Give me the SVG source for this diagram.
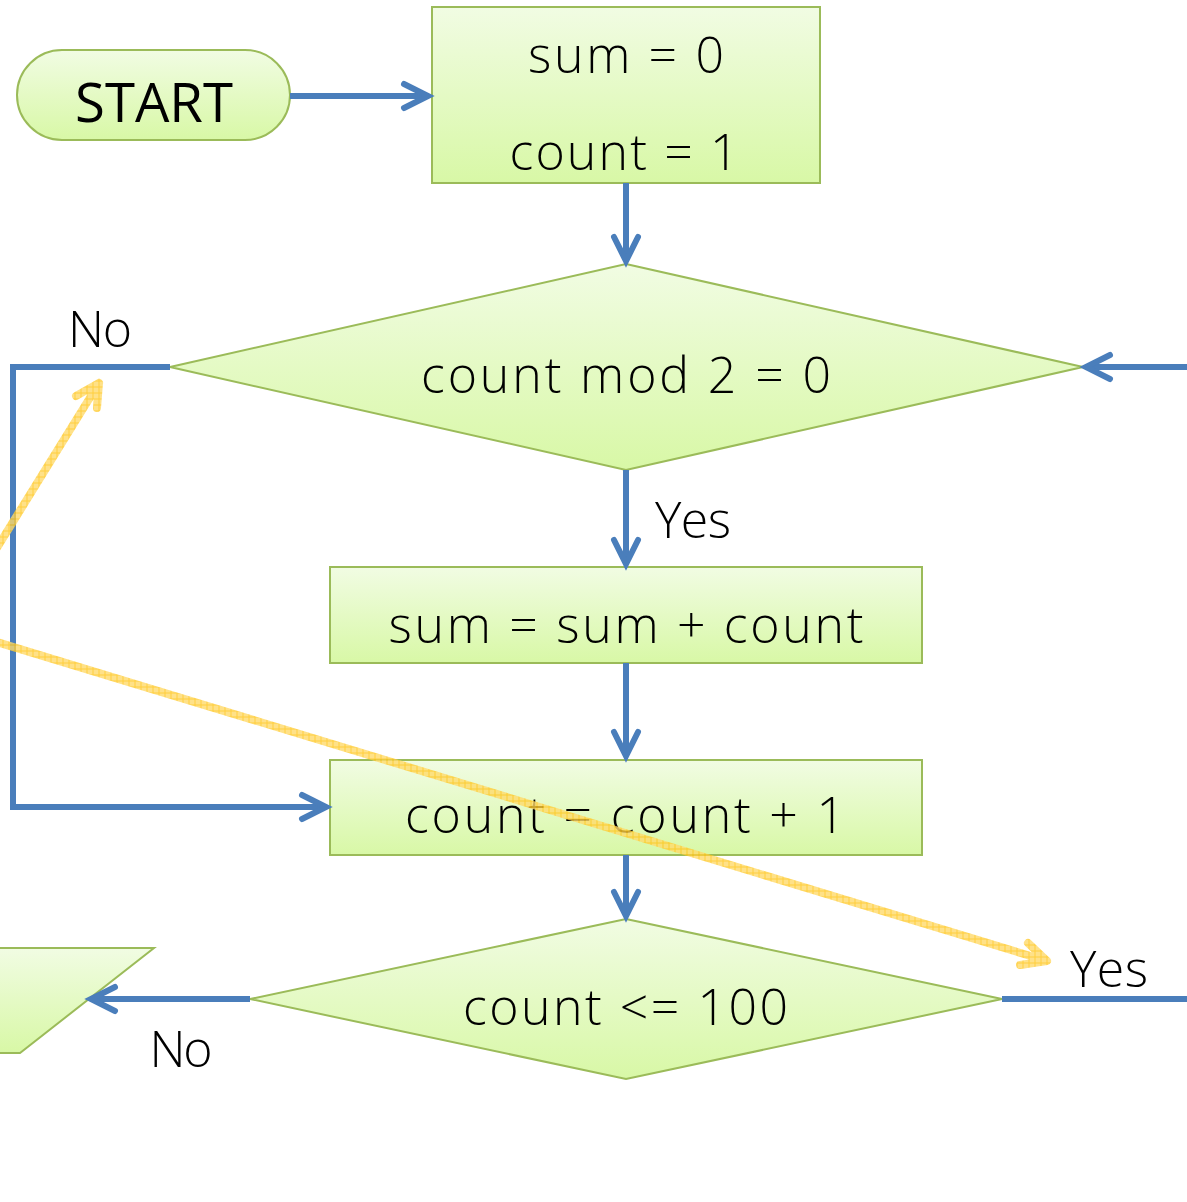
<svg xmlns="http://www.w3.org/2000/svg" width="1187" height="1202" viewBox="0 0 1187 1202">
  <defs>
    <linearGradient id="greenFill" x1="0" y1="0" x2="0" y2="1">
      <stop offset="0" stop-color="#F1FCE3"/>
      <stop offset="1" stop-color="#D8F8A6"/>
    </linearGradient>
    <pattern id="hatch" width="6" height="6" patternUnits="userSpaceOnUse">
      <rect width="6" height="6" fill="#FFDA6A"/>
      <path d="M0,3 H6 M3,0 V6" stroke="#FFC20E" stroke-width="1"/>
    </pattern>
    <marker id="arrow" markerUnits="userSpaceOnUse" viewBox="-32 -18 40 36" markerWidth="40" markerHeight="36" refX="0" refY="0" orient="auto">
      <path d="M-24,-12 L0,0 L-24,12" fill="none" stroke="#4A7EBB" stroke-width="6" stroke-linecap="round" stroke-linejoin="miter"/>
    </marker>
  </defs>
  <style>
    .shape { fill: url(#greenFill); stroke: #9BBB59; stroke-width: 2; }
    .label { font-family: "Open Sans", Lato, "Liberation Sans", sans-serif; font-size: 50px; font-weight: 300; fill: #000; }
    .title { font-family: "Open Sans", Lato, "Liberation Sans", sans-serif; font-size: 54px; font-weight: 400; fill: #000; }
    .flow { fill: none; stroke: #4A7EBB; stroke-width: 6; }
    .note { fill: none; stroke: url(#hatch); stroke-width: 8; stroke-linecap: round; stroke-linejoin: round; opacity: 0.8; }
  </style>

  <g id="output-shape">
    <polygon class="shape" points="-300,948 154,948 20,1053 -434,1053"/>
  </g>

  <g id="start">
    <rect class="shape" x="17" y="50" width="273" height="90" rx="45" ry="45"/>
    <text class="title" x="154" y="122" text-anchor="middle" textLength="158" lengthAdjust="spacingAndGlyphs">START</text>
  </g>

  <g id="init">
    <rect class="shape" x="432" y="7" width="388" height="176"/>
    <text class="label" x="626" y="73" text-anchor="middle" textLength="196" lengthAdjust="spacing">sum = 0</text>
    <text class="label" x="624" y="170" text-anchor="middle" textLength="229" lengthAdjust="spacing">count = 1</text>
  </g>

  <g id="check-even">
    <polygon class="shape" points="626,264 1083,367 626,470 170,367"/>
    <text class="label" x="626" y="393" text-anchor="middle" textLength="410" lengthAdjust="spacing">count mod 2 = 0</text>
  </g>

  <g id="add-sum">
    <rect class="shape" x="330" y="567" width="592" height="96"/>
    <text class="label" x="626" y="643" text-anchor="middle" textLength="475" lengthAdjust="spacing">sum = sum + count</text>
  </g>

  <g id="increment">
    <rect class="shape" x="330" y="760" width="592" height="95"/>
    <text class="label" x="625" y="833" text-anchor="middle" textLength="440" lengthAdjust="spacing">count = count + 1</text>
  </g>

  <g id="check-limit">
    <polygon class="shape" points="626,919 1002,999 626,1079 250,999"/>
    <text class="label" x="625.5" y="1025" text-anchor="middle" textLength="325" lengthAdjust="spacing">count &lt;= 100</text>
  </g>

  <g id="connectors">
    <path class="flow" d="M290,96 H428" marker-end="url(#arrow)"/>
    <path class="flow" d="M626,183 V261" marker-end="url(#arrow)"/>
    <path class="flow" d="M1187,367 H1086" marker-end="url(#arrow)"/>
    <path class="flow" d="M170,367 H13 V807 H326" marker-end="url(#arrow)"/>
    <path class="flow" d="M626,470 V564" marker-end="url(#arrow)"/>
    <path class="flow" d="M626,663 V756" marker-end="url(#arrow)"/>
    <path class="flow" d="M626,855 V916" marker-end="url(#arrow)"/>
    <path class="flow" d="M250,999 H91" marker-end="url(#arrow)"/>
    <path class="flow" d="M1002,999 H1187"/>
  </g>

  <g id="connector-labels">
    <text class="label" x="100" y="347" text-anchor="middle" textLength="64" lengthAdjust="spacing">No</text>
    <text class="label" x="693" y="538" text-anchor="middle" textLength="76" lengthAdjust="spacing">Yes</text>
    <text class="label" x="181" y="1067" text-anchor="middle" textLength="63" lengthAdjust="spacing">No</text>
    <text class="label" x="1109" y="987" text-anchor="middle" textLength="78" lengthAdjust="spacing">Yes</text>
  </g>

  <g id="annotations">
    <path class="note" d="M-10,559 L99,383 M76,396 L99,383 L97,408"/>
    <path class="note" d="M-10,640 L1047,961 M1028,943 L1047,961 L1020,965"/>
  </g>
</svg>
